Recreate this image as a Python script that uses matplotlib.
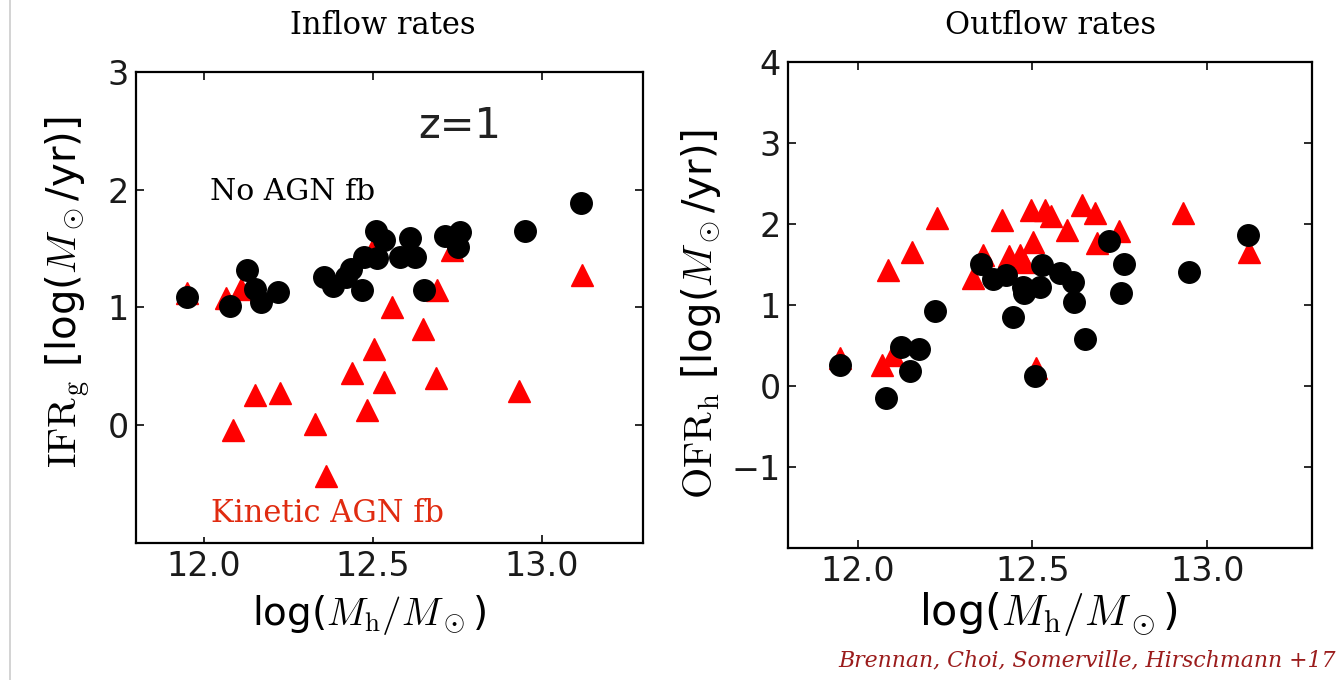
import matplotlib
matplotlib.use('Agg')
import matplotlib.pyplot as plt
from matplotlib.lines import Line2D

plt.rcParams.update({
    'font.family': 'DejaVu Sans',
    'mathtext.fontset': 'cm',
    'axes.linewidth': 1.6,
    'xtick.direction': 'in',
    'ytick.direction': 'in',
    'xtick.top': True,
    'ytick.right': True,
    'xtick.major.size': 6,
    'ytick.major.size': 6,
    'xtick.major.width': 1.3,
    'ytick.major.width': 1.3,
})

# inflow panel, no AGN feedback (black circles)
in_noagn_x = [11.950, 12.079, 12.128, 12.151, 12.171, 12.220, 12.355, 12.384, 12.435,
              12.475, 12.470, 12.509, 12.533, 12.514, 12.582, 12.612, 12.626, 12.651,
              12.715, 12.759, 12.754, 12.950, 13.116, 12.420]
in_noagn_y = [1.09, 1.01, 1.32, 1.16, 1.05, 1.13, 1.26, 1.18, 1.33,
              1.43, 1.15, 1.65, 1.57, 1.42, 1.43, 1.59, 1.43, 1.15,
              1.61, 1.64, 1.51, 1.65, 1.89, 1.26]

# inflow panel, kinetic AGN feedback (red triangles)
in_kin_x = [12.558, 12.650, 12.504, 12.440, 12.535, 12.688, 12.153, 12.227, 12.933,
            12.484, 12.087, 12.330, 12.362, 12.597, 13.119, 12.690, 12.734, 11.950,
            12.067, 12.112, 12.500]
in_kin_y = [1.00, 0.82, 0.65, 0.44, 0.37, 0.40, 0.26, 0.27, 0.29,
            0.13, -0.04, 0.01, -0.43, -0.64, 1.28, 1.15, 1.49, 1.12,
            1.08, 1.16, 1.50]

# outflow panel, no AGN feedback
out_noagn_x = [11.950, 12.080, 12.124, 12.174, 12.149, 12.221, 12.354, 12.387, 12.424,
               12.444, 12.472, 12.477, 12.508, 12.521, 12.527, 12.579, 12.615, 12.620,
               12.651, 12.719, 12.761, 12.754, 12.948, 13.116]
out_noagn_y = [0.26, -0.15, 0.48, 0.46, 0.19, 0.93, 1.51, 1.32, 1.37,
               0.85, 1.22, 1.15, 0.12, 1.22, 1.50, 1.40, 1.29, 1.04,
               0.58, 1.79, 1.51, 1.15, 1.41, 1.86]

# outflow panel, kinetic AGN feedback
out_kin_x = [11.950, 12.069, 12.086, 12.100, 12.154, 12.227, 12.331, 12.358, 12.414,
             12.433, 12.464, 12.477, 12.502, 12.497, 12.537, 12.552, 12.598, 12.643,
             12.678, 12.684, 12.747, 12.931, 13.121, 12.510]
out_kin_y = [0.35, 0.26, 1.43, 0.38, 1.66, 2.07, 1.33, 1.62, 2.05,
             1.60, 1.62, 1.53, 1.78, 2.17, 2.17, 2.10, 1.92, 2.23,
             2.14, 1.76, 1.91, 2.13, 1.66, 0.22]

fig = plt.figure(figsize=(13.36, 6.8), dpi=100)
ax1 = fig.add_axes([0.1018, 0.2015, 0.3795, 0.6926])
ax2 = fig.add_axes([0.5898, 0.1941, 0.3922, 0.7147])

for ax, kx, ky, bx, by in [(ax1, in_kin_x, in_kin_y, in_noagn_x, in_noagn_y),
                           (ax2, out_kin_x, out_kin_y, out_noagn_x, out_noagn_y)]:
    ax.plot(kx, ky, '^', color='red', mec='red', ms=15.5, ls='none')
    ax.plot(bx, by, 'o', color='black', mec='black', ms=15.5, ls='none')
    ax.set_xlim(11.8, 13.3)
    ax.set_xticks([12.0, 12.5, 13.0])
    ax.set_xticklabels(['12.0', '12.5', '13.0'])
    ax.tick_params(labelsize=24, pad=5, colors='#1a1a1a')

ax1.set_xlabel(r'log($M_\mathrm{h}/M_\odot$)', fontsize=28)
ax1.xaxis.set_label_coords(0.46, -0.106)
ax2.set_xlabel(r'log($M_\mathrm{h}/M_\odot$)', fontsize=31)
ax2.xaxis.set_label_coords(0.496, -0.086)

ax1.set_ylim(-1, 3)
ax1.set_yticks([0, 1, 2, 3])
ax1.set_ylabel(r'$\mathrm{IFR_g}$ [log($M_\odot$/yr)]', fontsize=29)
ax1.yaxis.set_label_coords(-0.087, 0.533)
ax2.set_ylim(-2, 4)
ax2.set_yticks([-1, 0, 1, 2, 3, 4])
ax2.set_ylabel(r'$\mathrm{OFR_h}$ [log($M_\odot$/yr)]', fontsize=29)
ax2.yaxis.set_label_coords(-0.124, 0.481)

ax1.text(0.639, 0.885, 'z=1', transform=ax1.transAxes, fontsize=30,
         ha='center', va='center', color='#222222')
ax1.text(0.146, 0.745, 'No AGN fb', transform=ax1.transAxes, fontsize=21.5,
         family='DejaVu Serif', ha='left', va='center', color='black')
ax1.text(0.148, 0.063, 'Kinetic AGN fb', transform=ax1.transAxes, fontsize=22,
         family='DejaVu Serif', ha='left', va='center', color='#e02b10',
         bbox=dict(facecolor='white', edgecolor='none', pad=6))

fig.text(383 / 1336, 1 - 26 / 680, 'Inflow rates', fontsize=22,
         family='DejaVu Serif', ha='center', va='center')
fig.text(1051 / 1336, 1 - 26 / 680, 'Outflow rates', fontsize=22,
         family='DejaVu Serif', ha='center', va='center')
fig.text(1.0, 1 - 660 / 680, 'Brennan, Choi, Somerville, Hirschmann +17',
         fontsize=15.8, family='DejaVu Serif', style='italic', color='#9b1c1c',
         ha='right', va='center')

fig.add_artist(Line2D([10 / 1336, 10 / 1336], [0, 1], color='#cccccc', lw=1.2))

plt.savefig('out.png', dpi=100)
